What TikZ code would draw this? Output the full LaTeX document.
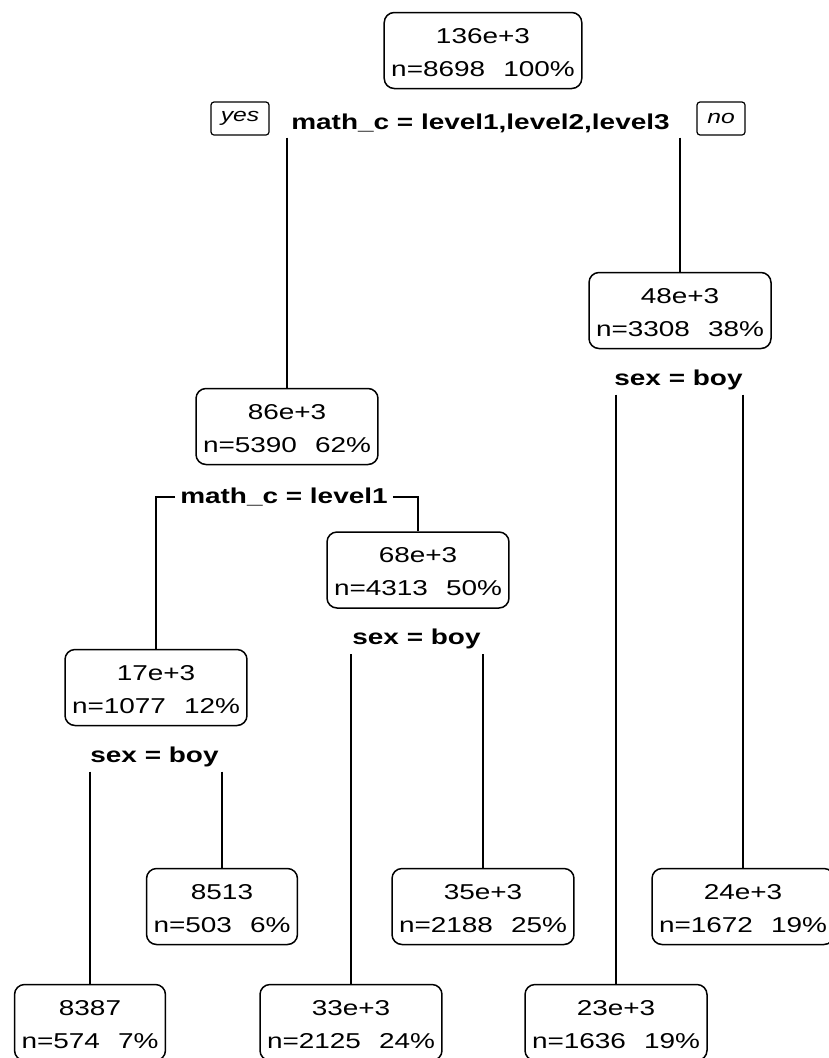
\documentclass[tikz,border=0pt]{standalone}
\usepackage{fontspec}
\setmainfont{Liberation Sans}[FakeStretch=1.3]
\newcommand\gapx{\hspace{18pt}}
\newcommand\tops{\rule{0pt}{19pt}}
\begin{document}
\begin{tikzpicture}[x=1pt,y=-1pt,
  box/.style={draw, rounded corners=10pt, line width=1.5pt, align=center,
    font=\fontsize{21.5}{33}\selectfont, inner xsep=7pt, inner ysep=0pt, minimum height=76pt},
  split/.style={font=\bfseries\fontsize{21.5}{26}\selectfont, inner sep=5pt},
  tag/.style={draw, rounded corners=3pt, line width=1.2pt,
    font=\itshape\fontsize{19}{22}\selectfont, minimum height=33pt, inner xsep=4pt},
  edge/.style={line width=1.5pt}]
\useasboundingbox (0,0) rectangle (828,1058);
% nodes
\node[box] (root) at (483,50.5) {\tops 136e+3\\n=8698\gapx 100\%};
\node[split] (s1) at (480.5,123) {math\_c = level1,level2,level3};
\node[tag, minimum width=58pt] (yes) at (240,118.5) {yes};
\node[tag, minimum width=48pt] (no) at (721,118.5) {no};

\node[box] (n2) at (287,426.5) {\tops 86e+3\\n=5390\gapx 62\%};
\node[split] (s2) at (284,497) {math\_c = level1};

\node[box] (n3) at (680,310.5) {\tops 48e+3\\n=3308\gapx 38\%};
\node[split] (s3) at (678.5,379.5) {sex = boy};

\node[box] (n4) at (156,687.5) {\tops 17e+3\\n=1077\gapx 12\%};
\node[split] (s4) at (154.5,756.5) {sex = boy};

\node[box] (n5) at (418,570) {\tops 68e+3\\n=4313\gapx 50\%};
\node[split] (s5) at (416.5,639) {sex = boy};

\node[box] (n8) at (90,1022.5) {\tops 8387\\n=574\gapx 7\%};
\node[box] (n9) at (222,906.5) {\tops 8513\\n=503\gapx 6\%};
\node[box] (n10) at (351,1022.5) {\tops 33e+3\\n=2125\gapx 24\%};
\node[box] (n11) at (483,906.5) {\tops 35e+3\\n=2188\gapx 25\%};
\node[box] (n6) at (616,1022.5) {\tops 23e+3\\n=1636\gapx 19\%};
\node[box] (n7) at (743,906.5) {\tops 24e+3\\n=1672\gapx 19\%};

% connectors
\draw[edge] (s1.south -| n2.north) -- (n2.north);
\draw[edge] (s1.south -| n3.north) -- (n3.north);
\draw[edge] (s2.west) -| (n4.north);
\draw[edge] (s2.east) -| (n5.north);
\draw[edge] (s3.south -| n6.north) -- (n6.north);
\draw[edge] (s3.south -| n7.north) -- (n7.north);
\draw[edge] (s4.south -| n8.north) -- (n8.north);
\draw[edge] (s4.south -| n9.north) -- (n9.north);
\draw[edge] (s5.south -| n10.north) -- (n10.north);
\draw[edge] (s5.south -| n11.north) -- (n11.north);
\end{tikzpicture}
\end{document}
